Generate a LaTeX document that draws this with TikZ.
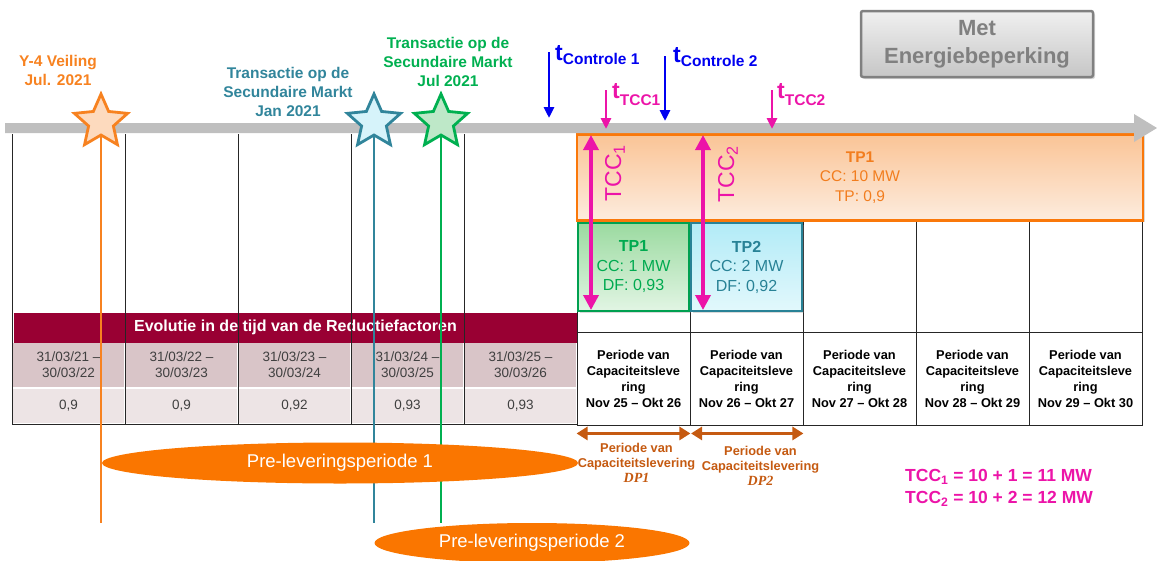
\documentclass[tikz,border=0pt]{standalone}
\usepackage{fontspec}
\setmainfont{Liberation Sans}
\newfontfamily\dpserif{Liberation Serif}
\usetikzlibrary{positioning,shapes,shadows,arrows.meta}

\newcommand\fsz[2]{\fontsize{#1}{#2}\selectfont}
\newcommand\tsub[2]{{\fsz{23}{23}\bfseries t}\raisebox{-#2pt}{\fsz{15.5}{15.5}\bfseries #1}}

\definecolor{veilorange}{RGB}{247,130,32}
\definecolor{starorange}{RGB}{253,218,190}
\definecolor{janteal}{RGB}{49,133,155}
\definecolor{starteal}{RGB}{214,243,250}
\definecolor{julgreen}{RGB}{0,176,80}
\definecolor{stargreen}{RGB}{190,232,200}
\definecolor{ctrlblue}{RGB}{0,0,240}
\definecolor{tccpink}{RGB}{236,20,168}
\definecolor{dpbrown}{RGB}{197,90,17}
\definecolor{evolred}{RGB}{153,0,51}
\definecolor{datefill}{RGB}{217,197,200}
\definecolor{valfill}{RGB}{237,228,229}
\definecolor{datetext}{RGB}{64,64,64}
\definecolor{barcolor}{RGB}{191,191,191}
\definecolor{preorange}{RGB}{250,118,0}
\definecolor{tpborder}{RGB}{250,120,10}
\definecolor{tptop}{RGB}{250,196,150}
\definecolor{tpbot}{RGB}{253,236,222}
\definecolor{tptext}{RGB}{242,125,30}
\definecolor{greenborder}{RGB}{0,160,80}
\definecolor{greentop}{RGB}{155,218,160}
\definecolor{greenbot}{RGB}{226,245,228}
\definecolor{greentext}{RGB}{0,170,80}
\definecolor{tealborder}{RGB}{40,130,150}
\definecolor{tealtop}{RGB}{178,235,247}
\definecolor{tealbot}{RGB}{226,248,252}
\definecolor{metgray}{RGB}{128,128,128}
\definecolor{mettop}{RGB}{240,240,240}
\definecolor{metbot}{RGB}{198,198,198}

\begin{document}
\begin{tikzpicture}[x=1pt, y=-1pt,
	gridline/.style={draw=black!85, line width=0.9pt},
	datecell/.style={rectangle, fill=datefill, draw=white, line width=1.5pt, minimum width=113pt, minimum height=46pt, inner sep=0pt, align=center, text=datetext, font={\fsz{13.5}{16}}},
	valcell/.style={datecell, fill=valfill, minimum height=36pt},
	levcell/.style={rectangle, draw=black!85, line width=0.9pt, minimum width=113pt, minimum height=93pt, inner sep=0pt, align=center, font={\fsz{12.8}{16}\bfseries}},
	tpbox/.style={rectangle, line width=2.5pt, inner sep=0pt, align=center, drop shadow={shadow xshift=1.5pt, shadow yshift=-1.5pt, opacity=0.3}},
	ster/.style={star, star points=5, star point ratio=2.15, minimum size=56pt, inner sep=0pt, line width=2.8pt},
	markline/.style={line width=2.5pt},
	preell/.style={ellipse, fill=preorange, text=white, inner sep=0pt, font={\fsz{18.5}{20}}},
	tarrow/.style={line width=2.8pt, -{Triangle[width=10pt,length=11pt]}},
	tccarrow/.style={draw=tccpink, line width=3.5pt, {Triangle[width=15pt,length=15pt]}-{Triangle[width=15pt,length=15pt]}},
	dparrow/.style={draw=dpbrown, line width=3.5pt, {Triangle[width=13pt,length=11pt]}-{Triangle[width=13pt,length=11pt]}},
	dptext/.style={align=center, inner sep=0pt, text=dpbrown, font={\fsz{12.8}{15}\bfseries}},
	toptext/.style={align=center, inner sep=0pt, font={\fsz{15.5}{19}\bfseries}}]
	\useasboundingbox (0,0) rectangle (1157,560);

	\foreach \i/\j/\v in {1/2/{0,9},2/3/{0,9},3/4/{0,92},4/5/{0,93},5/6/{0,93}} {
		\node (date\i) [datecell] at (68.5+113*\i-113,365) {31/03/2\i\ –\\30/03/2\j};
		\node (val\i) [valcell] at (68.5+113*\i-113,406) {\v};
	}
	\node (evol) [rectangle, fill=evolred, text=white, minimum width=563pt, minimum height=30pt, inner sep=0pt, font={\fsz{16}{18}\bfseries}] at (295.5,327.5) {Evolutie in de tijd van de Reductiefactoren};

	\foreach \k/\a/\b in {0/25/26,1/26/27,2/27/28,3/28/29,4/29/30}
		\node (lev\k) [levcell] at (633.5+113*\k,378.5) {Periode van\\Capaciteitsleve\\ring\\Nov \a\ – Okt \b};
	\foreach \k in {2,3,4}
		\draw[gridline] (577+113*\k,220) rectangle ++(113,112);
	\draw[gridline] (690,311) -- (690,332);
	\foreach \x in {12,125,238,351,464,577}
		\draw[gridline] (\x,134) -- (\x,424);
	\draw[gridline] (12,424) -- (577,424);

	\node (tpbig) [tpbox, draw=tpborder, top color=tptop, bottom color=tpbot, minimum width=566pt, minimum height=86pt, text=tptext, font={\fsz{15.5}{19.5}}] at (860,177.5) {\textbf{TP1}\\CC: 10 MW\\TP: 0,9};
	\node (tpgreen) [tpbox, draw=greenborder, top color=greentop, bottom color=greenbot, minimum width=111pt, minimum height=88pt, text=greentext, font={\fsz{16}{19.5}}] at (633.5,267) {\textbf{TP1}\\CC: 1 MW\\DF: 0,93};
	\node (tpteal) [tpbox, draw=tealborder, top color=tealtop, bottom color=tealbot, minimum width=111pt, minimum height=88pt, text=tealborder, font={\fsz{16}{19.5}}] at (746.5,267) {\textbf{TP2}\\CC: 2 MW\\DF: 0,92};

	\fill[barcolor] (5,123) -- (1134,123) -- (1134,114) -- (1157,128) -- (1134,142) -- (1134,133) -- (5,133) -- cycle;

	\node (starY) [ster, draw=veilorange, fill=starorange] at (101,122) {};
	\node (starJan) [ster, draw=janteal, fill=starteal] at (374,122) {};
	\node (starJul) [ster, draw=julgreen, fill=stargreen] at (441,122) {};

	\node (pre2) [preell, minimum width=315pt, minimum height=40pt] at (532,543) {Pre-leveringsperiode 2};
	\draw[markline, veilorange] ([yshift=-12pt]starY.center) -- (starY.center |- pre2.north);
	\draw[markline, janteal] ([yshift=-12pt]starJan.center) -- (starJan.center |- pre2.north);
	\draw[markline, julgreen] ([yshift=-12pt]starJul.center) -- (starJul.center |- pre2.north);
	\node (pre1) [preell, minimum width=476pt, minimum height=41pt] at (340,463) {Pre-leveringsperiode 1};

	\node (veiling) [toptext, text=veilorange] at (58,70) {Y-4 Veiling\\Jul. 2021};
	\node (transjan) [toptext, text=janteal] at (288,92) {Transactie op de\\Secundaire Markt\\Jan 2021};
	\node (transjul) [toptext, text=julgreen] at (448,62) {Transactie op de\\Secundaire Markt\\Jul 2021};

	\node (met) [rectangle, rounded corners=2pt, draw=metgray, line width=2.5pt, top color=mettop, bottom color=metbot, minimum width=232pt, minimum height=66pt, align=center, text=metgray, font={\fsz{22}{28}\bfseries}, drop shadow={shadow xshift=2pt, shadow yshift=-2pt, opacity=0.3}] at (977,44) {Met\\Energiebeperking};

	\node (ctrl1) [anchor=base west, inner sep=0pt, text=ctrlblue] at (555,60) {\tsub{Controle 1}{4}};
	\node (ctrl2) [anchor=base west, inner sep=0pt, text=ctrlblue] at (673,62) {\tsub{Controle 2}{4}};
	\node (ttcc1) [anchor=base west, inner sep=0pt, text=tccpink] at (612,98) {\tsub{TCC1}{7}};
	\node (ttcc2) [anchor=base west, inner sep=0pt, text=tccpink] at (777,98) {\tsub{TCC2}{7}};
	\coordinate (c1a) at (549,52);
	\coordinate (c1b) at (549,118);
	\coordinate (c2a) at (665,56);
	\coordinate (c2b) at (665,121);
	\coordinate (p1a) at (606,90);
	\coordinate (p1b) at (606,129);
	\coordinate (p2a) at (772,90);
	\coordinate (p2b) at (772,129);
	\draw[tarrow, ctrlblue] (c1a) -- (c1b);
	\draw[tarrow, ctrlblue] (c2a) -- (c2b);
	\draw[tarrow, tccpink] (p1a) -- (p1b);
	\draw[tarrow, tccpink] (p2a) -- (p2b);

	\draw[tccarrow] (591,135) -- (591,310);
	\draw[tccarrow] (703,135) -- (703,310);
	\node (tcc1lab) [rotate=90, inner sep=0pt, text=tccpink, font={\fsz{23}{23}}] at (615,173) {TCC\textsubscript{1}};
	\node (tcc2lab) [rotate=90, inner sep=0pt, text=tccpink, font={\fsz{23}{23}}] at (728,174) {TCC\textsubscript{2}};

	\draw[dparrow] ([yshift=-8pt]lev0.south west) -- ([yshift=-8pt]lev0.south east);
	\draw[dparrow] ([yshift=-8pt, xshift=1.5pt]lev1.south west) -- ([yshift=-8pt]lev1.south east);
	\node (dp1) [dptext, below=18pt of lev0, xshift=3pt] {Periode van\\Capaciteitslevering\\{\dpserif\itshape\fsz{14}{15}DP1}};
	\node (dp2) [dptext, below=21pt of lev1, xshift=14pt] {Periode van\\Capaciteitslevering\\{\dpserif\itshape\fsz{14}{15}DP2}};

	\node (formula) [anchor=west, align=left, inner sep=0pt, text=tccpink, font={\fsz{17.5}{22}\bfseries}] at (905,488) {TCC\textsubscript{1} = 10 + 1 = 11 MW\\TCC\textsubscript{2} = 10 + 2 = 12 MW};
\end{tikzpicture}
\end{document}
